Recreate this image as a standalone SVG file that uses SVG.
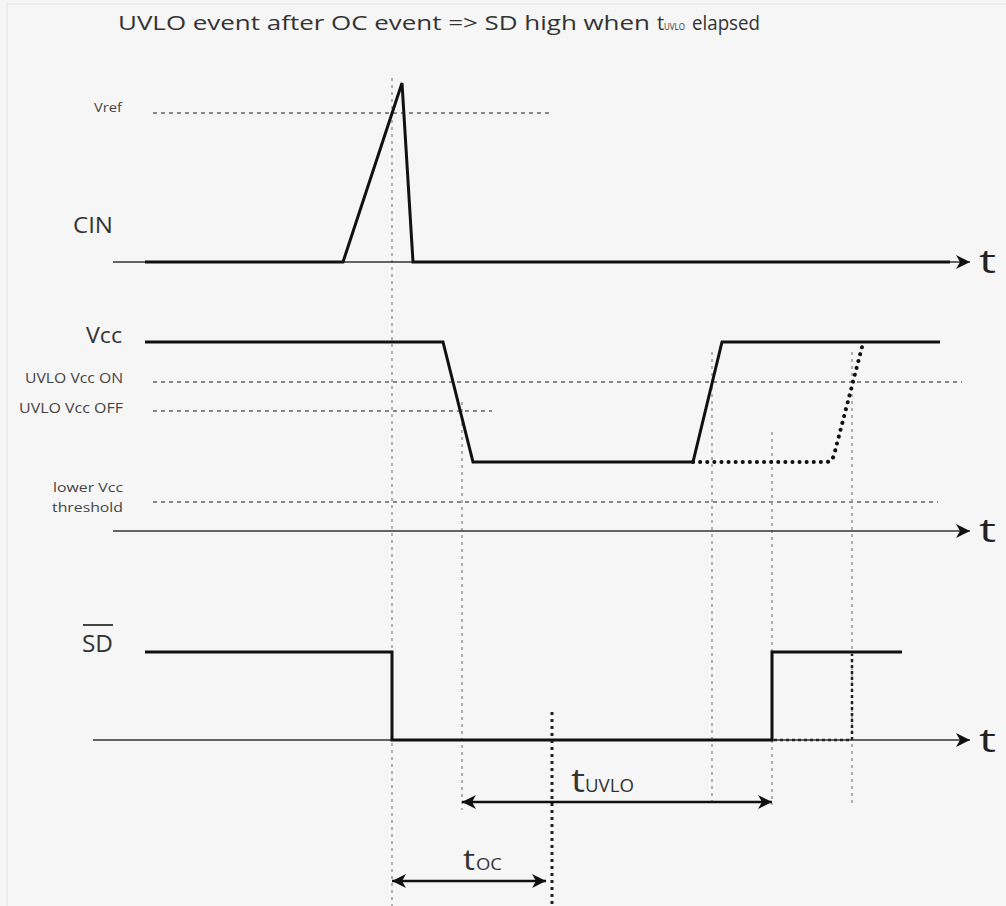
<svg xmlns="http://www.w3.org/2000/svg" width="1006" height="906" viewBox="0 0 1006 906">
<defs>
<marker id="ah" markerUnits="userSpaceOnUse" markerWidth="16" markerHeight="16" refX="14" refY="7" orient="auto-start-reverse">
<path d="M0,0 L14,7 L0,14 L4,7 Z" fill="#111"/>
</marker>
<style>
.bg{fill:#f6f6f6}
.frame{fill:none;stroke:#e2e2e2;stroke-width:1}
.axis{fill:none;stroke:#333;stroke-width:1.6}
.sig{fill:none;stroke:#111;stroke-width:3;stroke-linejoin:miter}
.thr{fill:none;stroke:#888;stroke-width:2;stroke-dasharray:4 4}
.guide{fill:none;stroke:#999;stroke-width:1.5;stroke-dasharray:3 4}
.bold-dot{fill:none;stroke:#222;stroke-width:3;stroke-dasharray:3 4}
.dots{fill:none;stroke:#111;stroke-width:4;stroke-linecap:round;stroke-dasharray:0.1 7}
.dots2{fill:none;stroke:#222;stroke-width:2.5;stroke-dasharray:3 3}
.dim{fill:none;stroke:#111;stroke-width:2.5}
text{font-family:"Open Sans","Liberation Sans",sans-serif;fill:#333}
.t{font-size:32px;fill:#222}
.lbl{fill:#444}
</style>
</defs>
<rect class="bg" x="0" y="0" width="1006" height="906"/>
<path class="frame" d="M7,906 V4 H1006"/>

<g id="title">
<text x="118" y="30" font-size="20" textLength="532" lengthAdjust="spacingAndGlyphs">UVLO event after OC event  =&gt; SD high when</text>
<text x="657" y="30" font-size="20">t</text>
<text x="664" y="30" font-size="9" textLength="21" lengthAdjust="spacingAndGlyphs">UVLO</text>
<text x="692" y="30" font-size="20" textLength="68" lengthAdjust="spacingAndGlyphs">elapsed</text>
</g>

<g id="guides">
<line class="thr" x1="153" y1="113" x2="550" y2="113"/>
<line class="thr" x1="153" y1="382" x2="962" y2="382"/>
<line class="thr" x1="153" y1="411" x2="492" y2="411"/>
<line class="thr" x1="153" y1="502" x2="938" y2="502"/>
<line class="guide" x1="392" y1="78" x2="392" y2="906"/>
<line class="guide" x1="462" y1="402" x2="462" y2="810"/>
<line class="guide" x1="712" y1="352" x2="712" y2="805"/>
<line class="guide" x1="772" y1="432" x2="772" y2="805"/>
<line class="guide" x1="852" y1="352" x2="852" y2="805"/>
<line class="bold-dot" x1="552" y1="712" x2="552" y2="906"/>
</g>

<g id="cin">
<line class="axis" x1="113" y1="262" x2="970" y2="262" marker-end="url(#ah)"/>
<polyline class="sig" points="145,262 343,262 402,83 413,262 950,262"/>
<text x="73" y="233" font-size="22" textLength="40" lengthAdjust="spacingAndGlyphs">CIN</text>
<text class="lbl" x="94" y="112" font-size="12" textLength="28" lengthAdjust="spacingAndGlyphs">Vref</text>
<text class="t" x="979" y="273" textLength="17" lengthAdjust="spacingAndGlyphs">t</text>
</g>

<g id="vcc">
<line class="axis" x1="113" y1="531" x2="970" y2="531" marker-end="url(#ah)"/>
<polyline class="sig" points="145,342 443,342 473,462 693,462 722,342 940,342"/>
<path class="dots" d="M693,462 L826,462 Q832,462 834,455 L862,347"/>
<text x="86" y="343" font-size="21" textLength="36" lengthAdjust="spacingAndGlyphs">Vcc</text>
<text class="lbl" x="25" y="383" font-size="14" textLength="98" lengthAdjust="spacingAndGlyphs">UVLO Vcc ON</text>
<text class="lbl" x="19" y="413" font-size="14" textLength="104" lengthAdjust="spacingAndGlyphs">UVLO Vcc OFF</text>
<text class="lbl" x="53" y="492" font-size="13" textLength="70" lengthAdjust="spacingAndGlyphs">lower Vcc</text>
<text class="lbl" x="52" y="512" font-size="13" textLength="71" lengthAdjust="spacingAndGlyphs">threshold</text>
<text class="t" x="979" y="542" textLength="17" lengthAdjust="spacingAndGlyphs">t</text>
</g>

<g id="sd">
<line class="axis" x1="93" y1="740" x2="970" y2="740" marker-end="url(#ah)"/>
<polyline class="sig" points="145,652 392,652 392,740 772,740 772,652 902,652"/>
<polyline class="dots2" points="774,740 852,740 852,654"/>
<text x="82" y="652" font-size="23" textLength="31" lengthAdjust="spacingAndGlyphs">SD</text>
<line x1="83" y1="625" x2="113" y2="625" stroke="#444" stroke-width="2"/>
<text class="t" x="979" y="752" textLength="17" lengthAdjust="spacingAndGlyphs">t</text>
</g>

<g id="connectors">
<line class="dim" x1="462" y1="802" x2="772" y2="802" marker-start="url(#ah)" marker-end="url(#ah)"/>
<line class="dim" x1="392" y1="881" x2="546" y2="881" marker-start="url(#ah)" marker-end="url(#ah)"/>
</g>

<g id="t-uvlo">
<text x="571" y="792" font-size="32" textLength="14" lengthAdjust="spacingAndGlyphs">t</text>
<text x="585" y="792" font-size="18" textLength="49" lengthAdjust="spacingAndGlyphs">UVLO</text>
</g>
<g id="t-oc">
<text x="463" y="870" font-size="30" textLength="12" lengthAdjust="spacingAndGlyphs">t</text>
<text x="476" y="870" font-size="17" textLength="26" lengthAdjust="spacingAndGlyphs">OC</text>
</g>
</svg>
